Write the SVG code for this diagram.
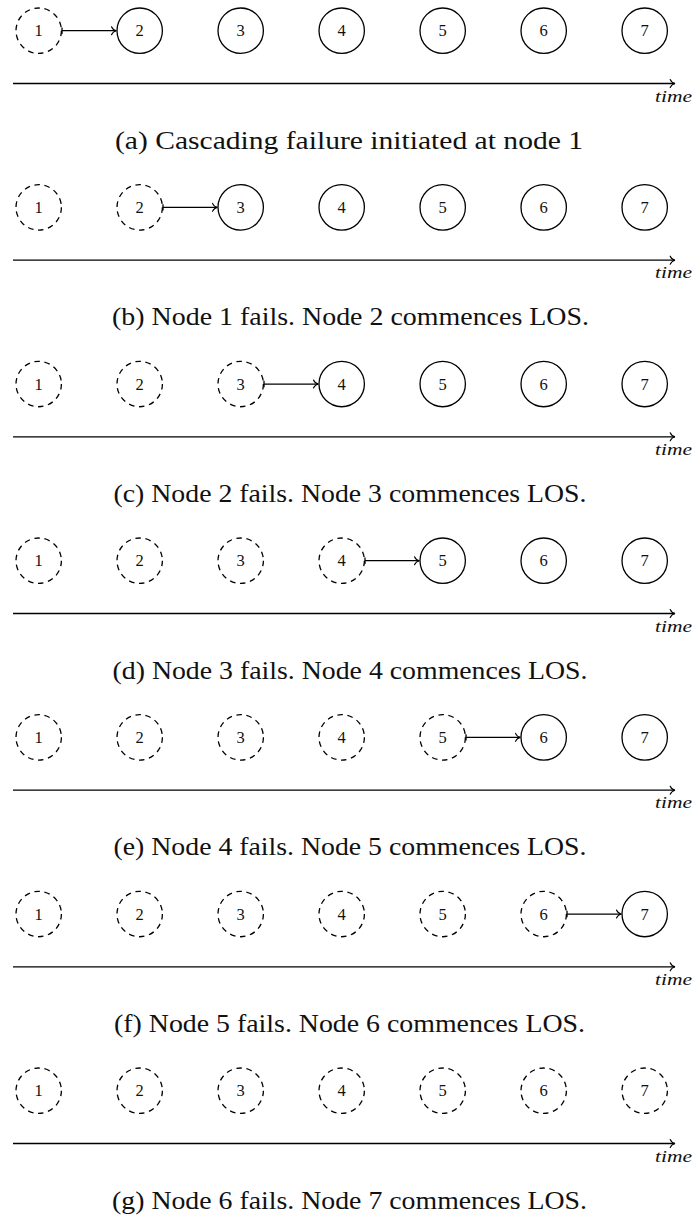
<svg xmlns="http://www.w3.org/2000/svg" width="696" height="1217" viewBox="0 0 696 1217" font-family="Liberation Serif, Tinos, Times New Roman, DejaVu Serif, serif">
<style>
.n{fill:#fff;stroke:#000;stroke-width:1.3}
.d{fill:#fff;stroke:#000;stroke-width:1.3;stroke-dasharray:5.6 4.59}
.l{font-size:16.5px;text-anchor:middle;fill:#111}
.e{stroke:#000;stroke-width:1.3;fill:none;marker-end:url(#ah)}
.ax{stroke:#000;stroke-width:1.3;fill:none;marker-end:url(#ah)}
.t{font-style:italic;font-size:16px;fill:#111}
.c{font-size:24.5px;text-anchor:middle;fill:#111}
.tk{stroke:#000;stroke-width:1.3}
</style>
<defs>
<marker id="ah" markerUnits="userSpaceOnUse" markerWidth="12" markerHeight="12" viewBox="-6 -6 12 12" refX="0" refY="0" orient="auto" overflow="visible">
<path d="M-4.8,-4 C-3.6,-1.4 -1.6,-0.3 0,0 C-1.6,0.3 -3.6,1.4 -4.8,4" fill="none" stroke="#000" stroke-width="1.1" stroke-linecap="round"/>
</marker>
</defs>

<!-- Panel a -->
<g id="panel-a">
<g id="a-n1"><circle class="d" cx="38.7" cy="30.7" r="22.7"/><text class="l" x="38.7" y="36.4">1</text></g>
<g id="a-n2"><circle class="n" cx="139.7" cy="30.7" r="22.7"/><text class="l" x="139.7" y="36.4">2</text></g>
<g id="a-n3"><circle class="n" cx="240.7" cy="30.7" r="22.7"/><text class="l" x="240.7" y="36.4">3</text></g>
<g id="a-n4"><circle class="n" cx="341.7" cy="30.7" r="22.7"/><text class="l" x="341.7" y="36.4">4</text></g>
<g id="a-n5"><circle class="n" cx="442.7" cy="30.7" r="22.7"/><text class="l" x="442.7" y="36.4">5</text></g>
<g id="a-n6"><circle class="n" cx="543.7" cy="30.7" r="22.7"/><text class="l" x="543.7" y="36.4">6</text></g>
<g id="a-n7"><circle class="n" cx="644.7" cy="30.7" r="22.7"/><text class="l" x="644.7" y="36.4">7</text></g>
<g id="a-edges"><line class="tk" x1="62" y1="27.5" x2="62" y2="33.9"/><line class="e" x1="62" y1="30.7" x2="116.3" y2="30.7"/></g>
<g id="a-axis"><line class="ax" x1="13" y1="83.5" x2="675" y2="83.5"/><text class="t" x="655" y="101.5" textLength="37" lengthAdjust="spacingAndGlyphs">time</text></g>
<text class="c" x="349" y="148.5" textLength="468" lengthAdjust="spacingAndGlyphs">(a) Cascading failure initiated at node 1</text>
</g>

<!-- Panel b -->
<g id="panel-b" transform="translate(0,176.67)">
<g id="b-n1"><circle class="d" cx="38.7" cy="30.7" r="22.7"/><text class="l" x="38.7" y="36.4">1</text></g>
<g id="b-n2"><circle class="d" cx="139.7" cy="30.7" r="22.7"/><text class="l" x="139.7" y="36.4">2</text></g>
<g id="b-n3"><circle class="n" cx="240.7" cy="30.7" r="22.7"/><text class="l" x="240.7" y="36.4">3</text></g>
<g id="b-n4"><circle class="n" cx="341.7" cy="30.7" r="22.7"/><text class="l" x="341.7" y="36.4">4</text></g>
<g id="b-n5"><circle class="n" cx="442.7" cy="30.7" r="22.7"/><text class="l" x="442.7" y="36.4">5</text></g>
<g id="b-n6"><circle class="n" cx="543.7" cy="30.7" r="22.7"/><text class="l" x="543.7" y="36.4">6</text></g>
<g id="b-n7"><circle class="n" cx="644.7" cy="30.7" r="22.7"/><text class="l" x="644.7" y="36.4">7</text></g>
<g id="b-edges"><line class="tk" x1="163" y1="27.5" x2="163" y2="33.9"/><line class="e" x1="163" y1="30.7" x2="217.3" y2="30.7"/></g>
<g id="b-axis"><line class="ax" x1="13" y1="83.5" x2="675" y2="83.5"/><text class="t" x="655" y="101.5" textLength="37" lengthAdjust="spacingAndGlyphs">time</text></g>
<text class="c" x="350.5" y="148.5" textLength="477" lengthAdjust="spacingAndGlyphs">(b) Node 1 fails. Node 2 commences LOS.</text>
</g>

<!-- Panel c -->
<g id="panel-c" transform="translate(0,353.33)">
<g id="c-n1"><circle class="d" cx="38.7" cy="30.7" r="22.7"/><text class="l" x="38.7" y="36.4">1</text></g>
<g id="c-n2"><circle class="d" cx="139.7" cy="30.7" r="22.7"/><text class="l" x="139.7" y="36.4">2</text></g>
<g id="c-n3"><circle class="d" cx="240.7" cy="30.7" r="22.7"/><text class="l" x="240.7" y="36.4">3</text></g>
<g id="c-n4"><circle class="n" cx="341.7" cy="30.7" r="22.7"/><text class="l" x="341.7" y="36.4">4</text></g>
<g id="c-n5"><circle class="n" cx="442.7" cy="30.7" r="22.7"/><text class="l" x="442.7" y="36.4">5</text></g>
<g id="c-n6"><circle class="n" cx="543.7" cy="30.7" r="22.7"/><text class="l" x="543.7" y="36.4">6</text></g>
<g id="c-n7"><circle class="n" cx="644.7" cy="30.7" r="22.7"/><text class="l" x="644.7" y="36.4">7</text></g>
<g id="c-edges"><line class="tk" x1="264" y1="27.5" x2="264" y2="33.9"/><line class="e" x1="264" y1="30.7" x2="318.3" y2="30.7"/></g>
<g id="c-axis"><line class="ax" x1="13" y1="83.5" x2="675" y2="83.5"/><text class="t" x="655" y="101.5" textLength="37" lengthAdjust="spacingAndGlyphs">time</text></g>
<text class="c" x="350" y="148.5" textLength="473" lengthAdjust="spacingAndGlyphs">(c) Node 2 fails. Node 3 commences LOS.</text>
</g>

<!-- Panel d -->
<g id="panel-d" transform="translate(0,530)">
<g id="d-n1"><circle class="d" cx="38.7" cy="30.7" r="22.7"/><text class="l" x="38.7" y="36.4">1</text></g>
<g id="d-n2"><circle class="d" cx="139.7" cy="30.7" r="22.7"/><text class="l" x="139.7" y="36.4">2</text></g>
<g id="d-n3"><circle class="d" cx="240.7" cy="30.7" r="22.7"/><text class="l" x="240.7" y="36.4">3</text></g>
<g id="d-n4"><circle class="d" cx="341.7" cy="30.7" r="22.7"/><text class="l" x="341.7" y="36.4">4</text></g>
<g id="d-n5"><circle class="n" cx="442.7" cy="30.7" r="22.7"/><text class="l" x="442.7" y="36.4">5</text></g>
<g id="d-n6"><circle class="n" cx="543.7" cy="30.7" r="22.7"/><text class="l" x="543.7" y="36.4">6</text></g>
<g id="d-n7"><circle class="n" cx="644.7" cy="30.7" r="22.7"/><text class="l" x="644.7" y="36.4">7</text></g>
<g id="d-edges"><line class="tk" x1="365" y1="27.5" x2="365" y2="33.9"/><line class="e" x1="365" y1="30.7" x2="419.3" y2="30.7"/></g>
<g id="d-axis"><line class="ax" x1="13" y1="83.5" x2="675" y2="83.5"/><text class="t" x="655" y="101.5" textLength="37" lengthAdjust="spacingAndGlyphs">time</text></g>
<text class="c" x="350" y="148.5" textLength="475" lengthAdjust="spacingAndGlyphs">(d) Node 3 fails. Node 4 commences LOS.</text>
</g>

<!-- Panel e -->
<g id="panel-e" transform="translate(0,706.67)">
<g id="e-n1"><circle class="d" cx="38.7" cy="30.7" r="22.7"/><text class="l" x="38.7" y="36.4">1</text></g>
<g id="e-n2"><circle class="d" cx="139.7" cy="30.7" r="22.7"/><text class="l" x="139.7" y="36.4">2</text></g>
<g id="e-n3"><circle class="d" cx="240.7" cy="30.7" r="22.7"/><text class="l" x="240.7" y="36.4">3</text></g>
<g id="e-n4"><circle class="d" cx="341.7" cy="30.7" r="22.7"/><text class="l" x="341.7" y="36.4">4</text></g>
<g id="e-n5"><circle class="d" cx="442.7" cy="30.7" r="22.7"/><text class="l" x="442.7" y="36.4">5</text></g>
<g id="e-n6"><circle class="n" cx="543.7" cy="30.7" r="22.7"/><text class="l" x="543.7" y="36.4">6</text></g>
<g id="e-n7"><circle class="n" cx="644.7" cy="30.7" r="22.7"/><text class="l" x="644.7" y="36.4">7</text></g>
<g id="e-edges"><line class="tk" x1="466" y1="27.5" x2="466" y2="33.9"/><line class="e" x1="466" y1="30.7" x2="520.3" y2="30.7"/></g>
<g id="e-axis"><line class="ax" x1="13" y1="83.5" x2="675" y2="83.5"/><text class="t" x="655" y="101.5" textLength="37" lengthAdjust="spacingAndGlyphs">time</text></g>
<text class="c" x="350" y="148.5" textLength="473" lengthAdjust="spacingAndGlyphs">(e) Node 4 fails. Node 5 commences LOS.</text>
</g>

<!-- Panel f -->
<g id="panel-f" transform="translate(0,883.33)">
<g id="f-n1"><circle class="d" cx="38.7" cy="30.7" r="22.7"/><text class="l" x="38.7" y="36.4">1</text></g>
<g id="f-n2"><circle class="d" cx="139.7" cy="30.7" r="22.7"/><text class="l" x="139.7" y="36.4">2</text></g>
<g id="f-n3"><circle class="d" cx="240.7" cy="30.7" r="22.7"/><text class="l" x="240.7" y="36.4">3</text></g>
<g id="f-n4"><circle class="d" cx="341.7" cy="30.7" r="22.7"/><text class="l" x="341.7" y="36.4">4</text></g>
<g id="f-n5"><circle class="d" cx="442.7" cy="30.7" r="22.7"/><text class="l" x="442.7" y="36.4">5</text></g>
<g id="f-n6"><circle class="d" cx="543.7" cy="30.7" r="22.7"/><text class="l" x="543.7" y="36.4">6</text></g>
<g id="f-n7"><circle class="n" cx="644.7" cy="30.7" r="22.7"/><text class="l" x="644.7" y="36.4">7</text></g>
<g id="f-edges"><line class="tk" x1="567" y1="27.5" x2="567" y2="33.9"/><line class="e" x1="567" y1="30.7" x2="621.3" y2="30.7"/></g>
<g id="f-axis"><line class="ax" x1="13" y1="83.5" x2="675" y2="83.5"/><text class="t" x="655" y="101.5" textLength="37" lengthAdjust="spacingAndGlyphs">time</text></g>
<text class="c" x="349.5" y="148.5" textLength="471" lengthAdjust="spacingAndGlyphs">(f) Node 5 fails. Node 6 commences LOS.</text>
</g>

<!-- Panel g -->
<g id="panel-g" transform="translate(0,1060)">
<g id="g-n1"><circle class="d" cx="38.7" cy="30.7" r="22.7"/><text class="l" x="38.7" y="36.4">1</text></g>
<g id="g-n2"><circle class="d" cx="139.7" cy="30.7" r="22.7"/><text class="l" x="139.7" y="36.4">2</text></g>
<g id="g-n3"><circle class="d" cx="240.7" cy="30.7" r="22.7"/><text class="l" x="240.7" y="36.4">3</text></g>
<g id="g-n4"><circle class="d" cx="341.7" cy="30.7" r="22.7"/><text class="l" x="341.7" y="36.4">4</text></g>
<g id="g-n5"><circle class="d" cx="442.7" cy="30.7" r="22.7"/><text class="l" x="442.7" y="36.4">5</text></g>
<g id="g-n6"><circle class="d" cx="543.7" cy="30.7" r="22.7"/><text class="l" x="543.7" y="36.4">6</text></g>
<g id="g-n7"><circle class="d" cx="644.7" cy="30.7" r="22.7"/><text class="l" x="644.7" y="36.4">7</text></g>
<g id="g-edges"></g>
<g id="g-axis"><line class="ax" x1="13" y1="83.5" x2="675" y2="83.5"/><text class="t" x="655" y="101.5" textLength="37" lengthAdjust="spacingAndGlyphs">time</text></g>
<text class="c" x="349.5" y="148.5" textLength="475" lengthAdjust="spacingAndGlyphs">(g) Node 6 fails. Node 7 commences LOS.</text>
</g>
</svg>
